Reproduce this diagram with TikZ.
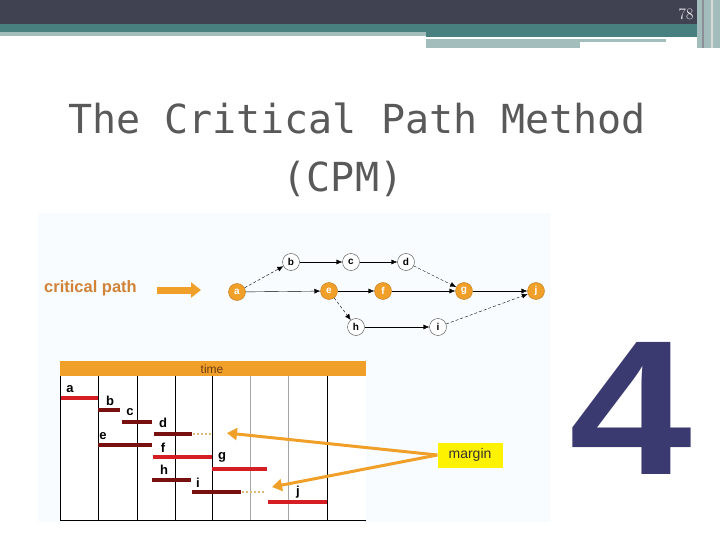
\documentclass[tikz,border=0pt]{standalone}
\usepackage{fontspec}
\setmainfont{Liberation Sans}
\newfontfamily\titlefont{DejaVu Sans Mono}
\newfontfamily\numfont{Latin Modern Roman}
\usepackage{tikz}
\usetikzlibrary{arrows.meta}
\definecolor{slatebar}{RGB}{64,66,82}
\definecolor{tealbar}{RGB}{71,128,127}
\definecolor{palebar}{RGB}{163,189,189}
\definecolor{cpmorange}{RGB}{240,160,40}
\definecolor{cpmedge}{RGB}{190,120,30}
\definecolor{cpmtext}{RGB}{208,130,55}
\definecolor{timetext}{RGB}{110,60,20}
\definecolor{barred}{RGB}{212,30,36}
\definecolor{bardark}{RGB}{120,16,16}
\definecolor{slack}{RGB}{215,185,120}
\definecolor{bignum}{RGB}{58,58,112}
\definecolor{picbg}{RGB}{248,252,254}

\begin{document}
\begin{tikzpicture}[
  x=1pt, y=-1pt,
  event/.style={circle, draw=black!70, fill=white, minimum size=17pt, inner sep=0pt, font=\fontsize{10}{10}\selectfont\bfseries},
  crit/.style={event, draw=cpmedge, fill=cpmorange, text=white},
  link/.style={-{Latex[length=6pt,width=5pt]}, thin},
  float/.style={link, densely dashed},
  task/.style={font=\fontsize{13}{13}\selectfont\bfseries, inner sep=0pt},
  redbar/.style={line width=4pt, barred},
  darkbar/.style={line width=4pt, bardark},
  slackline/.style={line width=2pt, slack, dotted},
  pointer/.style={line width=3pt, cpmorange, -{Triangle[length=10pt,width=12pt]}}
]
  \useasboundingbox (0,0) rectangle (720,540);

  % Header bars
  \fill[slatebar] (0,0) rectangle (720,24);
  \fill[tealbar] (0,24) rectangle (720,32);
  \fill[palebar] (0,32) rectangle (426,36);
  \fill[tealbar] (426,32) rectangle (700,37);
  \fill[palebar] (426,39) rectangle (666,42);
  \fill[palebar] (426,42) rectangle (580,48);
  \fill[palebar] (697,0) rectangle (720,48);
  \draw[slatebar!60, line width=1.5pt] (703,0) -- (703,48);
  \draw[white!85!black, line width=1.5pt] (712,0) -- (712,48);
  \node[text=white, font=\numfont\fontsize{16}{16}\selectfont] (pagenum) at (686,14) {78};

  % Title
  \node[text=black!65, font=\titlefont\fontsize{40}{58}\selectfont, align=center] (title) at (357,150)
    {The Critical Path Method\\(CPM)\hspace*{28pt}};

  % Picture background
  \fill[picbg] (38,213) rectangle (550,522);

  % Network
  \node[text=cpmtext, font=\fontsize{16.5}{16.5}\selectfont\bfseries, anchor=west, inner sep=0pt] (cplabel) at (44,288) {critical path};
  \coordinate (cpstart) at (157,290);
  \coordinate (cpend) at (201,290);
  \draw[line width=7pt, cpmorange, -{Triangle[length=10pt,width=15pt]}] (cpstart) -- (cpend);

  \node[crit] (a) at (237,292) {a};
  \node[event] (b) at (291,262) {b};
  \node[event] (c) at (351,262) {c};
  \node[event] (d) at (406,262) {d};
  \node[crit] (e) at (329,291) {e};
  \node[crit] (f) at (383,291) {f};
  \node[crit] (g) at (464,291) {g};
  \node[crit] (j) at (536,291) {j};
  \node[event] (h) at (356,327) {h};
  \node[event] (i) at (438,327) {i};

  \draw[float] (a) -- (b);
  \draw[link] (a) -- (e);
  \draw[link] (b) -- (c);
  \draw[link] (c) -- (d);
  \draw[float] (d) -- (g);
  \draw[link] (e) -- (f);
  \draw[link] (f) -- (g);
  \draw[link] (g) -- (j);
  \draw[float] (e) -- (h);
  \draw[link] (h) -- (i);
  \draw[float] (i) -- (j);

  % Gantt chart
  \fill[white] (60,361) rectangle (366,520);
  \fill[cpmorange] (60,361) rectangle (366,376);
  \node[text=timetext, font=\fontsize{12}{12}\selectfont] (time) at (212,369) {time};
  \draw[black] (60,376) -- (60,520) -- (366,520);
  \foreach \x in {98,137,175,212,327}
    \draw[black] (\x,376) -- (\x,520);
  \foreach \x in {250,288}
    \draw[black!35] (\x,376) -- (\x,520);

  \draw[redbar] (61,398) -- (98,398);
  \draw[darkbar] (98,410) -- (120,410);
  \draw[darkbar] (122,422) -- (152,422);
  \draw[darkbar] (154,434) -- (192,434);
  \draw[slackline] (193,434) -- (211,434);
  \draw[darkbar] (98,445) -- (152,445);
  \draw[redbar] (153,457) -- (212,457);
  \draw[redbar] (212,469) -- (267,469);
  \draw[darkbar] (152,480) -- (191,480);
  \draw[darkbar] (192,492) -- (241,492);
  \draw[slackline] (242,492) -- (265,492);
  \draw[redbar] (268,502) -- (327,502);

  \node[task] (ta) at (70,389) {a};
  \node[task] (tb) at (110,401) {b};
  \node[task] (tc) at (130,412) {c};
  \node[task] (td) at (163,423) {d};
  \node[task] (te) at (103,436) {e};
  \node[task] (tf) at (163,448) {f};
  \node[task] (tg) at (222,457) {g};
  \node[task] (th) at (164,470) {h};
  \node[task] (ti) at (198,483) {i};
  \node[task] (tj) at (298,492) {j};

  % Margin
  \node[fill=yellow, text=black!80, font=\fontsize{14}{14}\selectfont, minimum width=65pt, minimum height=25pt, inner sep=2pt] (margin) at (470,455) {margin};
  \coordinate (dslack) at (227,433);
  \coordinate (islack) at (272,487);
  \draw[pointer] (margin.west) -- (dslack);
  \draw[pointer] (margin.west) -- (islack);

  % Big number
  \node[text=bignum, font=\fontsize{192}{192}\selectfont\bfseries, inner sep=0pt, xscale=1.15] (four) at (631,408) {4};
\end{tikzpicture}
\end{document}
